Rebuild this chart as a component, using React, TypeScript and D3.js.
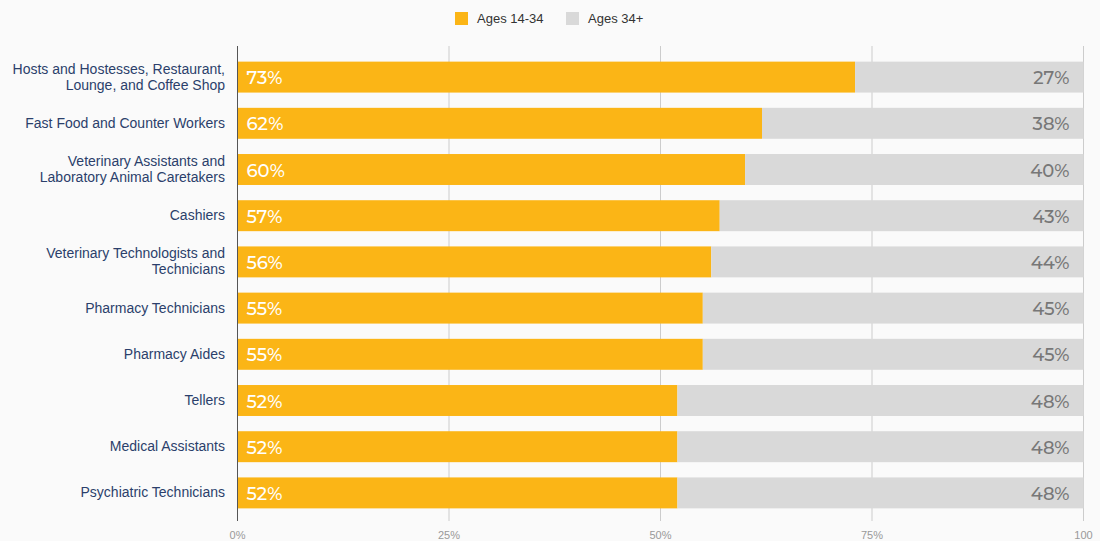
import React from "react";
import * as d3 from "d3";

const categories: string[][] = [
  ["Hosts and Hostesses, Restaurant,", "Lounge, and Coffee Shop"],
  ["Fast Food and Counter Workers"],
  ["Veterinary Assistants and", "Laboratory Animal Caretakers"],
  ["Cashiers"],
  ["Veterinary Technologists and", "Technicians"],
  ["Pharmacy Technicians"],
  ["Pharmacy Aides"],
  ["Tellers"],
  ["Medical Assistants"],
  ["Psychiatric Technicians"],
];
const young = [73, 62, 60, 57, 56, 55, 55, 52, 52, 52];
const older = [27, 38, 40, 43, 44, 45, 45, 48, 48, 48];
const ticks = [0, 25, 50, 75, 100];
const tickLabels = ["0%", "25%", "50%", "75%", "100"];
const seriesNames = ["Ages 14-34", "Ages 34+"];
const colors = ["#fbb516", "#d9d9d9"];

export default function App() {
  const W = 1100, H = 541;
  const x = d3.scaleLinear().domain([0, 100]).range([237.5, 1083.5]);
  const y = d3.scaleBand<number>().domain(d3.range(categories.length)).range([54, 516]).paddingInner(0.33).paddingOuter(0.165);
  const font = "Helvetica, Arial, 'Liberation Sans', sans-serif";
  const valFont = "Montserrat, 'Open Sans', Lato, sans-serif";
  return (
    <svg width={W} height={H} style={{ position: "absolute", left: 0, top: 0, background: "#fafafa" }}>
      <rect x={0} y={0} width={W} height={H} fill="#fafafa" />
      {/* legend */}
      <g fontFamily={font} fontSize={13} fill="#333">
        <rect x={455} y={12} width={13} height={13} fill={colors[0]} />
        <text x={477} y={23}>{seriesNames[0]}</text>
        <rect x={566} y={12} width={13} height={13} fill={colors[1]} />
        <text x={588} y={23}>{seriesNames[1]}</text>
      </g>
      {/* grid */}
      {ticks.slice(1).map((t) => (
        <line key={t} x1={x(t)} x2={x(t)} y1={46} y2={521} stroke="#cccccc" strokeWidth={1} />
      ))}
      {/* bars */}
      {categories.map((c, i) => {
        const by = y(i)!;
        const bh = y.bandwidth();
        return (
          <g key={i}>
            <rect x={x(0)} y={by} width={x(young[i]) - x(0)} height={bh} fill={colors[0]} />
            <rect x={x(young[i])} y={by} width={x(young[i] + older[i]) - x(young[i])} height={bh} fill={colors[1]} />
            <text x={x(0) + 9} y={by + bh / 2 + 7} fill="#fff" fontSize={18} fontWeight={500} fontFamily={valFont}>{young[i]}%</text>
            <text x={x(100) - 14} y={by + bh / 2 + 7} fill="#777" fontSize={18} fontWeight={500} textAnchor="end" fontFamily={valFont}>{older[i]}%</text>
            <text x={225} y={by + bh / 2 + 4.5 - (c.length - 1) * 8} fill="#2b3f6b" fontSize={14} textAnchor="end" fontFamily={font}>
              {c.map((l, j) => (
                <tspan key={j} x={225} dy={j === 0 ? 0 : 16}>{l}</tspan>
              ))}
            </text>
          </g>
        );
      })}
      {/* axis */}
      <line x1={x(0)} x2={x(0)} y1={46} y2={521} stroke="#555" strokeWidth={1} />
      {ticks.map((t, i) => (
        <text key={t} x={x(t)} y={539} fontSize={11} fill="#999" textAnchor="middle" fontFamily={font}>{tickLabels[i]}</text>
      ))}
    </svg>
  );
}
